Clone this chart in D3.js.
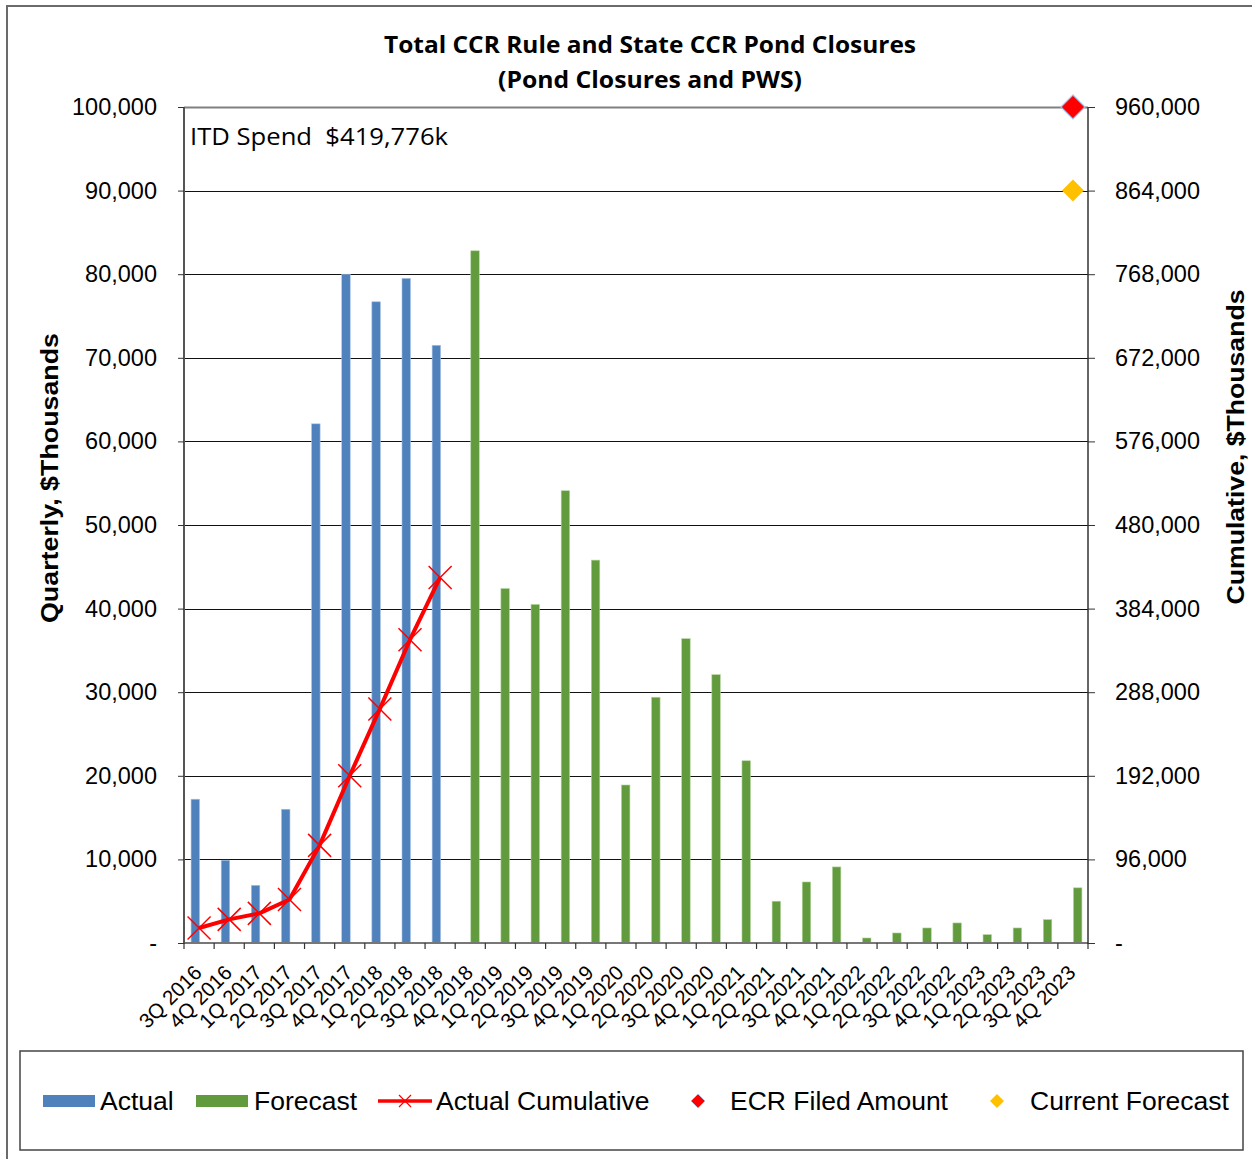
<!DOCTYPE html>
<html>
<head>
<meta charset="utf-8">
<script src="https://cdn.jsdelivr.net/npm/d3@7"></script>
<style>
  html, body { margin: 0; padding: 0; background: #fff; }
  svg { display: block; }
</style>
</head>
<body>
<svg id="chart" width="1252" height="1159"></svg>
<script>
// ---------- DATA ----------
const categories = ["3Q 2016","4Q 2016","1Q 2017","2Q 2017","3Q 2017","4Q 2017","1Q 2018","2Q 2018","3Q 2018",
  "4Q 2018","1Q 2019","2Q 2019","3Q 2019","4Q 2019","1Q 2020","2Q 2020","3Q 2020","4Q 2020",
  "1Q 2021","2Q 2021","3Q 2021","4Q 2021","1Q 2022","2Q 2022","3Q 2022","4Q 2022",
  "1Q 2023","2Q 2023","3Q 2023","4Q 2023"];
const actualCats = categories.slice(0, 9);
const actualValues = [17200, 9900, 6900, 16000, 62100, 80000, 76700, 79500, 71500];
const forecastCats = categories.slice(9);
const forecastValues = [82800, 42400, 40500, 54100, 45800, 18900, 29400, 36400, 32100, 21800,
  5000, 7300, 9100, 600, 1200, 1800, 2400, 1000, 1800, 2800, 6600];
const cumulativeValues = [17200, 27100, 34000, 50000, 112100, 192100, 268800, 348300, 419776];
const ecrFiled = { cat: "4Q 2023", value: 960000 };
const currentForecast = { cat: "4Q 2023", value: 864000 };
const leftTicks = [0,10000,20000,30000,40000,50000,60000,70000,80000,90000,100000];
const rightTicks = [0,96000,192000,288000,384000,480000,576000,672000,768000,864000,960000];
const titleLines = ["Total CCR Rule and State CCR Pond Closures", "(Pond Closures and PWS)"];
const itdText = "ITD Spend\u00a0 $419,776k";

// ---------- STYLE ----------
const C = { actual: "#4F81BD", forecast: "#629B3E", cum: "#FF0000", ecr: "#FF0000", cur: "#FFC000" };
const sans = "'Liberation Sans', Arial, sans-serif";
const cal = "'Open Sans', 'Noto Sans', sans-serif";

const svg = d3.select("#chart");
const L = 184, R = 1088, T = 107, B = 943;

const x = d3.scaleBand().domain(categories).range([L, R]).padding(0);
const yL = d3.scaleLinear().domain([0, 100000]).range([B, T]);
const yR = d3.scaleLinear().domain([0, 960000]).range([B, T]);
const cx = c => x(c) + x.bandwidth() / 2;
const fmt = v => v === 0 ? "-" : d3.format(",")(v);

// outer border
svg.append("rect").attr("x", 7).attr("y", 6).attr("width", 1300).attr("height", 1200)
  .attr("fill", "none").attr("stroke", "#6b6b6b").attr("stroke-width", 2);

// title
titleLines.forEach((t, i) => {
  svg.append("text").attr("x", 650).attr("y", i === 0 ? 53 : 88)
    .attr("text-anchor", "middle").attr("font-family", cal).attr("font-weight", 700)
    .attr("font-size", 23.5)
    .attr("textLength", i === 0 ? 532 : 304).attr("lengthAdjust", "spacingAndGlyphs")
    .text(t);
});

// gridlines
svg.append("g").selectAll("line").data(leftTicks.filter(d => d > 0)).join("line")
  .attr("x1", L).attr("x2", R)
  .attr("y1", d => Math.round(yL(d)) + 0.5).attr("y2", d => Math.round(yL(d)) + 0.5)
  .attr("stroke", d => d === 100000 ? "#808080" : "#111")
  .attr("stroke-width", d => d === 100000 ? 2 : 1);

// bars
svg.append("g").selectAll("rect").data(actualCats.map((c, i) => ({ c, v: actualValues[i] }))).join("rect")
  .attr("x", d => cx(d.c) - 8).attr("width", 8.5)
  .attr("y", d => yL(d.v)).attr("height", d => B - yL(d.v))
  .attr("fill", C.actual).attr("stroke", "#a9c4e4").attr("stroke-width", 0.6);
svg.append("g").selectAll("rect").data(forecastCats.map((c, i) => ({ c, v: forecastValues[i] }))).join("rect")
  .attr("x", d => cx(d.c) + 0.5).attr("width", 8.5)
  .attr("y", d => yL(d.v)).attr("height", d => B - yL(d.v))
  .attr("fill", C.forecast).attr("stroke", "#b5d6a0").attr("stroke-width", 0.6);

// axes lines
const axG = svg.append("g");
axG.append("line").attr("x1", L).attr("x2", R).attr("y1", B).attr("y2", B).attr("stroke", "#777").attr("stroke-width", 2);
axG.append("line").attr("x1", L).attr("x2", L).attr("y1", T).attr("y2", B + 1).attr("stroke", "#555").attr("stroke-width", 2);
axG.append("line").attr("x1", R).attr("x2", R).attr("y1", T).attr("y2", B + 1).attr("stroke", "#333").attr("stroke-width", 1.5);

// left axis
const leftAxis = d3.axisLeft(yL).tickValues(leftTicks).tickFormat(fmt).tickSize(6).tickPadding(21);
const gl = svg.append("g").attr("transform", `translate(${L},0)`).call(leftAxis);
gl.select(".domain").remove();
gl.selectAll(".tick line").attr("stroke", "#333");
gl.selectAll(".tick text").attr("font-family", sans).attr("font-size", 23.5).attr("fill", "#000");

// right axis
const rightAxis = d3.axisRight(yR).tickValues(rightTicks).tickFormat(fmt).tickSize(7).tickPadding(20);
const gr = svg.append("g").attr("transform", `translate(${R},0)`).call(rightAxis);
gr.select(".domain").remove();
gr.selectAll(".tick line").attr("stroke", "#333");
gr.selectAll(".tick text").attr("font-family", sans).attr("font-size", 23.5).attr("fill", "#000");

// x axis ticks (at band boundaries)
svg.append("g").selectAll("line").data(categories.concat(["__end"])).join("line")
  .attr("x1", (d, i) => i < categories.length ? x(d) : R)
  .attr("x2", (d, i) => i < categories.length ? x(d) : R)
  .attr("y1", B).attr("y2", B + 6).attr("stroke", "#333").attr("stroke-width", 1.2);

// x labels
svg.append("g").selectAll("text").data(categories).join("text")
  .attr("transform", d => `translate(${cx(d) + 4},${974}) rotate(-45)`)
  .attr("text-anchor", "end").attr("font-family", sans).attr("font-size", 20.5).attr("fill", "#000")
  .text(d => d);

// axis titles
svg.append("text").attr("transform", `translate(58,478) rotate(-90)`)
  .attr("text-anchor", "middle").attr("font-family", sans).attr("font-weight", 700).attr("font-size", 24)
  .attr("textLength", 290).attr("lengthAdjust", "spacingAndGlyphs")
  .text("Quarterly, $Thousands");
svg.append("text").attr("transform", `translate(1244,447) rotate(-90)`)
  .attr("text-anchor", "middle").attr("font-family", sans).attr("font-weight", 700).attr("font-size", 24)
  .attr("textLength", 315).attr("lengthAdjust", "spacingAndGlyphs")
  .text("Cumulative, $Thousands");

// ITD text
svg.append("text").attr("x", 190).attr("y", 145).attr("font-family", cal).attr("font-size", 24)
  .attr("textLength", 258).attr("lengthAdjust", "spacingAndGlyphs").text(itdText);

// cumulative line
const cumData = actualCats.map((c, i) => ({ c, v: cumulativeValues[i] }));
svg.append("path").datum(cumData)
  .attr("d", d3.line().x(d => cx(d.c)).y(d => yR(d.v)))
  .attr("fill", "none").attr("stroke", C.cum).attr("stroke-width", 4).attr("stroke-linejoin", "round");
svg.append("g").selectAll("path").data(cumData).join("path")
  .attr("d", d => {
    const px = cx(d.c), py = yR(d.v), s = 11.5;
    return `M${px - s},${py - s}L${px + s},${py + s}M${px - s},${py + s}L${px + s},${py - s}`;
  })
  .attr("stroke", C.cum).attr("stroke-width", 1.5).attr("fill", "none");

// diamonds
const diamond = (px, py, s) => `M${px},${py - s}L${px + s},${py}L${px},${py + s}L${px - s},${py}Z`;
svg.append("path").attr("d", diamond(cx(ecrFiled.cat), yR(ecrFiled.value), 12))
  .attr("fill", C.ecr).attr("stroke", "#9dc3e6").attr("stroke-width", 1.2);
svg.append("path").attr("d", diamond(cx(currentForecast.cat), yR(currentForecast.value), 11))
  .attr("fill", C.cur);

// legend
const lg = svg.append("g");
lg.append("rect").attr("x", 20).attr("y", 1051).attr("width", 1223).attr("height", 99)
  .attr("fill", "#fff").attr("stroke", "#444").attr("stroke-width", 1.5);
const ly = 1101;
lg.append("rect").attr("x", 43).attr("y", ly - 6).attr("width", 52).attr("height", 12).attr("fill", C.actual);
lg.append("rect").attr("x", 196).attr("y", ly - 6).attr("width", 52).attr("height", 12).attr("fill", C.forecast);
lg.append("line").attr("x1", 378).attr("x2", 432).attr("y1", ly).attr("y2", ly).attr("stroke", C.cum).attr("stroke-width", 3.5);
lg.append("path").attr("d", `M399,${ly - 6}L411,${ly + 6}M399,${ly + 6}L411,${ly - 6}`).attr("stroke", C.cum).attr("stroke-width", 1.2);
lg.append("path").attr("d", diamond(698, ly, 7)).attr("fill", C.ecr).attr("stroke", "#9dc3e6").attr("stroke-width", 0.8);
lg.append("path").attr("d", diamond(997, ly, 7)).attr("fill", C.cur);
const legendTexts = [["Actual", 100], ["Forecast", 254], ["Actual Cumulative", 436], ["ECR Filed Amount", 730], ["Current Forecast", 1030]];
lg.selectAll("text.lt").data(legendTexts).join("text").attr("class", "lt")
  .attr("x", d => d[1]).attr("y", 1110).attr("font-family", sans).attr("font-size", 26.5).attr("fill", "#000")
  .text(d => d[0]);
</script>
</body>
</html>
